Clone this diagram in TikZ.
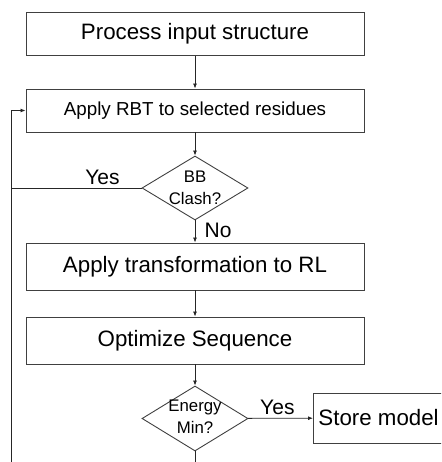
\documentclass[tikz,border=0pt]{standalone}
\usepackage{fontspec}
\setmainfont{Liberation Sans}
\usetikzlibrary{shapes.geometric,arrows.meta,calc}
\tikzset{
    block/.style = {draw=black!75, rectangle, line width=0.9pt,
        minimum height=43pt,
        minimum width=338pt,
        font=\fontsize{22.3}{26}\selectfont},
    decision/.style = {draw=black!75, diamond, line width=0.9pt,
        inner sep=0pt, minimum width=106pt, minimum height=64pt},
    dtext/.style = {align=center, inner sep=0pt,
        font=\fontsize{16.8}{22}\selectfont},
    arrow/.style = {draw=black!85, line width=0.8pt, -{Latex[length=5pt,width=4pt]}},
    wire/.style = {draw=black!85, line width=0.8pt},
    answer/.style = {font=\fontsize{21}{24}\selectfont}
}
\begin{document}
\begin{tikzpicture}[x=1pt,y=-1pt]
    \useasboundingbox (0,0) rectangle (441,462);
    \clip (0,0) rectangle (441,462);
    % main column
    \node[block] (proc) at (195,34) {Process input structure};
    \node[block, font=\fontsize{18.8}{22}\selectfont] (rbt) at (195,110.5) {Apply RBT to selected residues};
    \node[decision] (clash) at (195,188) {};
    \node[dtext] at (clash) {BB\\Clash?};
    \node[block, minimum height=47pt] (trans) at (195,266.5) {Apply transformation to RL};
    \node[block, minimum height=47pt] (opt) at (195,340.5) {Optimize Sequence};
    \node[decision, minimum height=65pt] (emin) at (195,418.5) {};
    \node[dtext] at ($(emin)+(0,-2)$) {Energy\\Min?};
    \node[block, anchor=west, minimum width=0pt, minimum height=50pt, inner xsep=5pt] (store) at (313,418) {Store model};
    % loose ends at the bottom edge
    \coordinate (loopbot) at (11,462);
    \coordinate (minbot) at (195,462);
    % connectors
    \draw[arrow] (proc) -- (rbt);
    \draw[arrow] (rbt) -- (clash);
    \draw[arrow] (clash) -- node[answer, right, pos=0.45, xshift=6pt] {No} (trans);
    \draw[arrow] (trans) -- (opt);
    \draw[arrow] (opt) -- (emin);
    \draw[arrow] (emin) -- node[answer, above, pos=0.45] {Yes} (store);
    \draw[wire] (clash.west) -- node[answer, above, pos=0.3] {Yes} (clash.west -| loopbot);
    \draw[arrow] (loopbot) |- (rbt.west);
    \draw[wire] (emin.south) -- (minbot);
\end{tikzpicture}
\end{document}
